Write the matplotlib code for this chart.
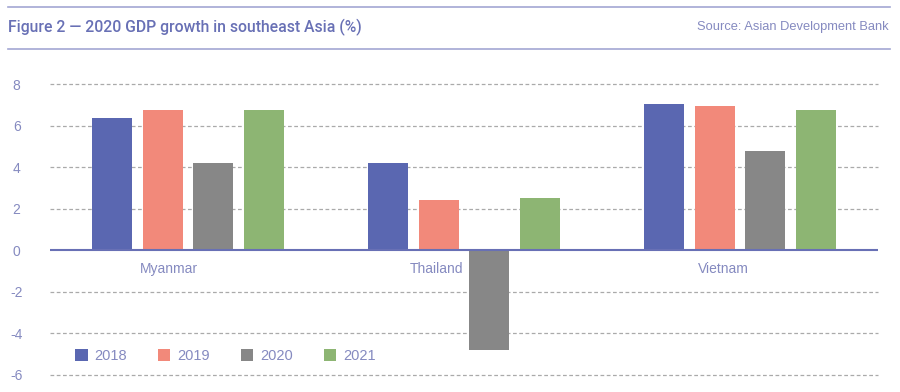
import matplotlib
matplotlib.use("Agg")
import matplotlib.pyplot as plt
import numpy as np

categories = ["Myanmar", "Thailand", "Vietnam"]
years = ["2018", "2019", "2020", "2021"]
v2018 = [6.35, 4.2, 7.05]
v2019 = [6.75, 2.4, 6.95]
v2020 = [4.2, -4.8, 4.8]
v2021 = [6.75, 2.5, 6.75]
series = [v2018, v2019, v2020, v2021]
colors = ["#5a67b1", "#f2897a", "#878787", "#8db573"]
yticks = [-6, -4, -2, 0, 2, 4, 6, 8]
label_offsets = [-0.07, -0.1, -0.06]

plt.rcParams['font.family'] = ['Liberation Sans', 'DejaVu Sans']
title_col = "#6870b5"
text_col = "#858ac0"

fig = plt.figure(figsize=(9, 3.92), dpi=100)
ax = fig.add_axes([50/900, 1-375/392, 828/900, (375-84)/392])

x = np.arange(len(categories))
w = 0.145
stride = 0.183
for i, (vals, c, yr) in enumerate(zip(series, colors, years)):
    ax.bar(x + (i - 1.5) * stride, vals, width=w, color=c, label=yr, zorder=3)

ax.set_xlim(-0.5, 2.5)
ax.set_ylim(-6, 8)
ax.set_yticks(yticks)
ax.set_yticklabels([str(t) for t in yticks])
for t in yticks:
    if t != 0:
        ax.axhline(t, color="#aaaaaa", lw=0.9, ls=(0, (3, 2)), zorder=1, clip_on=False)
ax.axhline(0, color=title_col, lw=1.5, zorder=4)
for s in ax.spines.values():
    s.set_visible(False)
ax.set_xticks([])
ax.tick_params(axis='y', length=0, pad=24, labelsize=10, labelcolor=text_col)
for lab in ax.get_yticklabels():
    lab.set_horizontalalignment('center')

for i, name in enumerate(categories):
    ax.text(i + label_offsets[i], -0.9, name, ha='center', va='center', fontsize=10, color=text_col)

leg = ax.legend(loc='lower left', bbox_to_anchor=(12/828, -0.005), ncol=4, frameon=False,
                handlelength=0.85, handleheight=0.85, handletextpad=0.45,
                columnspacing=2.15, fontsize=10.5)
for t in leg.get_texts():
    t.set_color(text_col)

fig.add_artist(plt.Line2D([8/900, 890/900], [1-7/392, 1-7/392], color="#a3a7d3", lw=1.2))
fig.add_artist(plt.Line2D([8/900, 890/900], [1-49/392, 1-49/392], color="#a3a7d3", lw=1.2))
fig.text(8/900, 1-27/392, "Figure 2 \u2014 2020 GDP growth in southeast Asia (%)",
         ha='left', va='center', fontsize=11.3, color=title_col,
         family=['Roboto', 'DejaVu Sans'], fontweight='medium')
fig.text(889/900, 1-27/392, "Source: Asian Development Bank",
         ha='right', va='center', fontsize=9.3, color=text_col)

fig.savefig("out.png", dpi=100)
